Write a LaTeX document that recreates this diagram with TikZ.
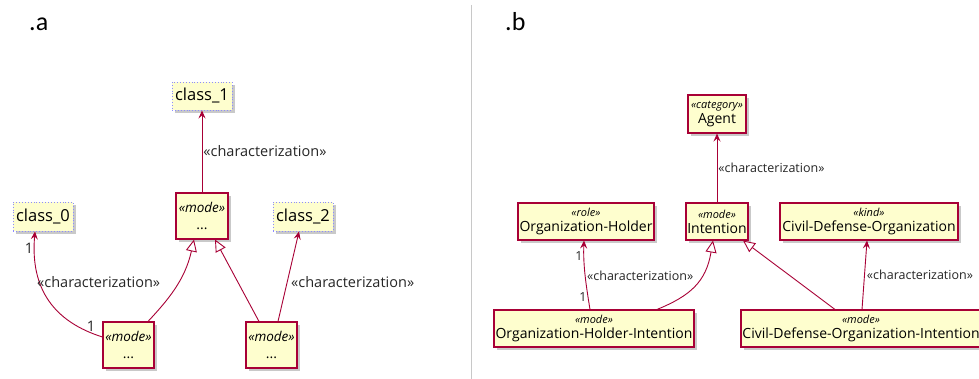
\documentclass[tikz,border=0pt]{standalone}
\usepackage{fontspec}
\setmainfont{Open Sans}
\newfontfamily\panelfont{Carlito}
\usetikzlibrary{arrows.meta,shadows}
\definecolor{umlred}{HTML}{A80036}
\definecolor{umlfill}{HTML}{FEFECE}
\definecolor{umlblue}{HTML}{8C8CFF}
\definecolor{sepgray}{HTML}{C8C8C8}
\tikzset{
  umlbox/.style={draw=umlred, fill=umlfill, line width=1.1pt, inner sep=0pt, align=center,
    drop shadow={shadow xshift=3pt, shadow yshift=-3pt, fill=black!35, opacity=0.6}},
  classbox/.style={draw=umlblue, fill=umlfill, dotted, line width=0.9pt, inner sep=0pt, align=center,
    font=\fontsize{16.5}{18}\selectfont,
    drop shadow={shadow xshift=3pt, shadow yshift=-3pt, fill=black!35, opacity=0.6}},
  boxa/.style={umlbox, font=\fontsize{14}{16}\selectfont},
  boxb/.style={umlbox, font=\fontsize{14}{15}\selectfont},
  charrow/.style={draw=umlred, line width=0.9pt, -{Stealth[length=8pt, width=7pt, inset=3pt]}},
  genarrow/.style={draw=umlred, line width=0.9pt, -{Triangle[open, length=12pt, width=11pt, fill=white]}},
  laba/.style={font=\fontsize{14.5}{16}\selectfont, text=black!85, inner sep=0pt},
  labb/.style={font=\fontsize{12.5}{14}\selectfont, text=black!85, inner sep=0pt},
  panel/.style={font=\panelfont\fontsize{26}{30}\selectfont, inner sep=0pt, anchor=base west}
}
\newcommand{\sta}[1]{{\fontsize{13.5}{14}\selectfont\itshape «#1»}}
\newcommand{\stb}[1]{{\fontsize{11}{12}\selectfont\itshape «#1»}}
\begin{document}
\begin{tikzpicture}[x=1pt, y=-1pt]
\useasboundingbox[fill=white] (0,0) rectangle (979,379);
% panel labels and separator
\node[panel] (la) at (29,31) {.a};
\node[panel] (lb) at (505,31) {.b};
\coordinate (s1) at (471,5);
\coordinate (s2) at (471,379);
\draw[sepgray, line width=0.8pt] (s1) -- (s2);

% ---------- panel a ----------
\node[classbox, minimum width=60pt, minimum height=28pt] (c1) at (202,96) {class\_1};
\node[classbox, minimum width=60pt, minimum height=29pt] (c0) at (43,216.5) {class\_0};
\node[classbox, minimum width=60pt, minimum height=29pt] (c2) at (303,216.5) {class\_2};
\node[boxa, minimum width=52pt, minimum height=46pt] (mC) at (202,216) {\sta{mode}\\[1pt]...};
\node[boxa, minimum width=51pt, minimum height=46pt] (mL) at (128.5,345) {\sta{mode}\\[1pt]...};
\node[boxa, minimum width=51pt, minimum height=46pt] (mR) at (271.5,345) {\sta{mode}\\[1pt]...};

\draw[charrow] (mC.north) -- (c1.south)
  node[laba, pos=0.5, anchor=west, xshift=1pt] {«characterization»};
\draw[charrow] ([yshift=8pt]mL.west) .. controls (55,322) and (30,290) .. ([xshift=-8pt]c0.south);
\node[laba, anchor=west] (l0) at (37,282) {«characterization»};
\node[laba] (m0a) at (29,248) {1};
\node[laba] (m0b) at (91,326) {1};
\draw[charrow] ([xshift=6.5pt]mR.north) -- ([xshift=-4pt]c2.south);
\node[laba, anchor=west] (l2) at (291,282) {«characterization»};
\draw[genarrow] ([xshift=19.5pt]mL.north) .. controls (168,300) and (185,280) .. ([xshift=-8pt]mC.south);
\draw[genarrow] ([xshift=-12.5pt]mR.north) -- ([xshift=13pt]mC.south);

% ---------- panel b ----------
\node[boxb, minimum width=58pt, minimum height=38pt] (ag) at (717,114) {\stb{category}\\Agent};
\node[boxb, minimum width=136pt, minimum height=37pt] (oh) at (586,221.5) {\stb{role}\\Organization-Holder};
\node[boxb, minimum width=62pt, minimum height=37pt] (in) at (717,221.5) {\stb{mode}\\Intention};
\node[boxb, minimum width=178pt, minimum height=37pt] (cdo) at (869,221.5) {\stb{kind}\\Civil-Defense-Organization};
\node[boxb, minimum width=200pt, minimum height=37pt] (ohi) at (594,328.5) {\stb{mode}\\Organization-Holder-Intention};
\node[boxb, minimum width=240pt, minimum height=37pt] (cdoi) at (861,328.5) {\stb{mode}\\Civil-Defense-Organization-Intention};

\draw[charrow] (in.north) -- (ag.south)
  node[labb, pos=0.5, anchor=west, xshift=1pt] {«characterization»};
\draw[charrow] ([xshift=-4pt]ohi.north) .. controls (586,285) and (583,265) .. ([xshift=-2pt]oh.south);
\node[labb, anchor=west] (lo) at (587,276) {«characterization»};
\node[labb] (mo1) at (579,256) {1};
\node[labb] (mo2) at (583,297) {1};
\draw[genarrow] ([xshift=63pt]ohi.north) .. controls (690,296) and (706,282) .. ([xshift=-4pt]in.south);
\draw[genarrow] ([xshift=-26pt]cdoi.north) -- ([xshift=26pt]in.south);
\draw[charrow] ([xshift=1pt]cdoi.north) -- ([xshift=-2pt]cdo.south)
  node[labb, pos=0.5, anchor=west, xshift=2pt] {«characterization»};
\end{tikzpicture}
\end{document}
